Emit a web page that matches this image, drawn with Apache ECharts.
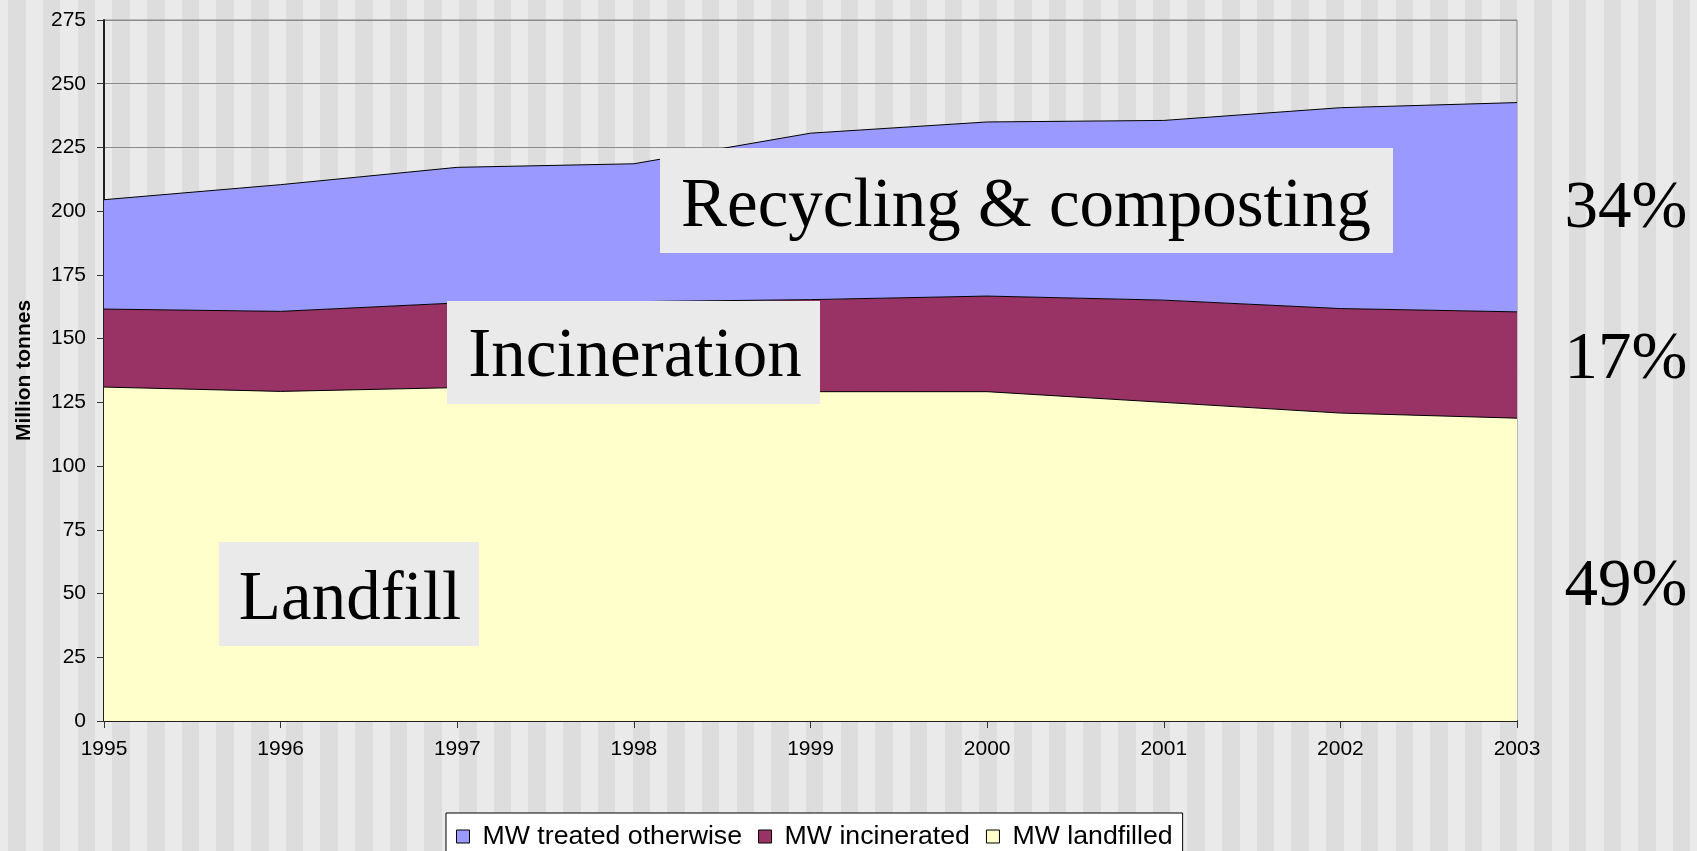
<!DOCTYPE html>
<html>
<head>
<meta charset="utf-8">
<script src="https://cdn.jsdelivr.net/npm/echarts@6/dist/echarts.min.js"></script>
<style>
  html, body { margin: 0; padding: 0; width: 1697px; height: 851px; overflow: hidden; }
  body {
    background: repeating-linear-gradient(90deg,
      #eaeaea 0px, #eaeaea 8.3px,
      #dddddd 8.3px, #dddddd 25.8px,
      #eaeaea 25.8px, #eaeaea 34.68px);
  }
  #chart { width: 1697px; height: 851px; }
</style>
</head>
<body>
<div id="chart"></div>
<script>
// ---- data ----
const years = ['1995', '1996', '1997', '1998', '1999', '2000', '2001', '2002', '2003'];
const landfilled = [131.0, 129.3, 130.8, 130.0, 129.2, 129.2, 125.0, 120.8, 118.8];
const incinerated = [30.6, 31.4, 33.2, 34.5, 36.1, 37.5, 40.1, 41.0, 41.7];
const treatedOtherwise = [42.9, 49.7, 53.2, 54.1, 65.3, 68.3, 70.5, 78.8, 82.1];
const seriesNames = ['MW treated otherwise', 'MW incinerated', 'MW landfilled'];
const annotationTexts = ['Recycling & composting', 'Incineration', 'Landfill'];
const shareTexts = ['34%', '17%', '49%'];
const yTicks = { min: 0, max: 275, interval: 25 };
const axisName = 'Million tonnes';

// ---- styles ----
const sans = '"Liberation Sans", Arial, sans-serif';
const serif = '"Liberation Serif", "Times New Roman", serif';

const chart = echarts.init(document.getElementById('chart'), null, { renderer: 'canvas' });

function areaSeries(name, data, color) {
  return {
    name: name,
    type: 'line',
    stack: 'total',
    data: data,
    showSymbol: false,
    symbol: 'none',
    lineStyle: { color: '#000', width: 1 },
    itemStyle: { color: color, borderColor: '#000' },
    areaStyle: { color: color, opacity: 1 },
    emphasis: { disabled: true },
    animation: false
  };
}

const boxes = [
  { x: 660, y: 148, w: 733, h: 105, tx: 1026, ty: 208 },
  { x: 447, y: 301, w: 373, h: 103, tx: 635, ty: 358 },
  { x: 219, y: 542, w: 260, h: 104, tx: 350, ty: 601 }
];
const shares = [
  { tx: 1626, ty: 209 },
  { tx: 1626, ty: 360 },
  { tx: 1626, ty: 587 }
];

const graphics = [];
boxes.forEach((b, i) => {
  graphics.push({
    type: 'rect', z: 100,
    shape: { x: b.x, y: b.y, width: b.w, height: b.h },
    style: { fill: '#eaeaea' }
  });
  graphics.push({
    type: 'text', z: 101,
    x: b.tx, y: b.ty,
    style: {
      text: annotationTexts[i],
      font: '69px ' + serif,
      fill: '#000',
      align: 'center',
      verticalAlign: 'middle',
      shadowColor: '#ffffff',
      shadowOffsetX: 2,
      shadowOffsetY: 2,
      shadowBlur: 0
    }
  });
});
shares.forEach((s, i) => {
  graphics.push({
    type: 'text', z: 101,
    x: s.tx, y: s.ty,
    style: {
      text: shareTexts[i],
      font: '67px ' + serif,
      fill: '#000',
      align: 'center',
      verticalAlign: 'middle',
      shadowColor: '#ffffff',
      shadowOffsetX: 2,
      shadowOffsetY: 2,
      shadowBlur: 0
    }
  });
});

const option = {
  backgroundColor: 'transparent',
  animation: false,
  grid: {
    left: 104, right: 180, top: 20, bottom: 130,
    show: true, borderColor: '#8a8a8a', borderWidth: 1,
    backgroundColor: 'transparent'
  },
  legend: {
    data: seriesNames,
    left: 446, top: 813,
    orient: 'horizontal',
    padding: [10, 10, 10, 10],
    itemGap: 16,
    itemWidth: 13, itemHeight: 13,
    icon: 'rect',
    backgroundColor: '#ffffff',
    borderColor: '#000',
    borderWidth: 1,
    borderRadius: 0,
    selectedMode: false,
    itemStyle: { borderColor: '#000', borderWidth: 1 },
    textStyle: { fontFamily: sans, fontSize: 26.7, color: '#000', padding: [0, 0, 0, 8] }
  },
  xAxis: {
    type: 'category',
    data: years,
    boundaryGap: false,
    axisLine: { show: true, lineStyle: { color: '#222', width: 2 } },
    axisTick: { show: true, length: 7, alignWithLabel: true, lineStyle: { color: '#333', width: 1 } },
    axisLabel: { color: '#000', fontFamily: sans, fontSize: 21, margin: 18 },
    splitLine: { show: false }
  },
  yAxis: {
    type: 'value',
    min: yTicks.min, max: yTicks.max, interval: yTicks.interval,
    name: axisName,
    nameLocation: 'middle',
    nameGap: 69,
    nameRotate: 90,
    nameTextStyle: { fontFamily: sans, fontSize: 21, fontWeight: 'bold', color: '#000' },
    axisLine: { show: true, lineStyle: { color: '#222', width: 2 } },
    axisTick: { show: true, length: 7, lineStyle: { color: '#333', width: 1 } },
    axisLabel: { color: '#000', fontFamily: sans, fontSize: 21, margin: 18 },
    splitLine: { show: true, lineStyle: { color: '#8a8a8a', width: 1 } }
  },
  series: [
    areaSeries(seriesNames[2], landfilled, '#ffffcc'),
    areaSeries(seriesNames[1], incinerated, '#993366'),
    areaSeries(seriesNames[0], treatedOtherwise, '#9999ff')
  ],
  graphic: graphics
};

chart.setOption(option);
</script>
</body>
</html>
